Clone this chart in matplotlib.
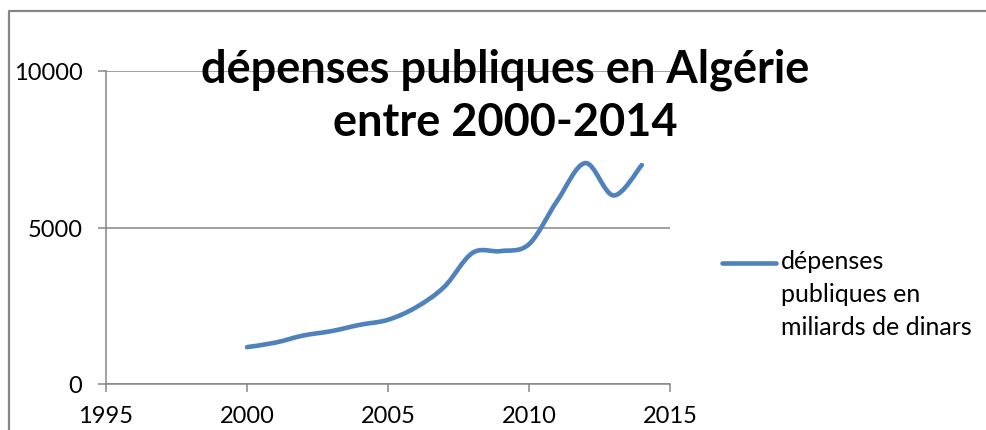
import numpy as np
import matplotlib
matplotlib.use('Agg')
import matplotlib.pyplot as plt
from matplotlib.path import Path
from matplotlib.patches import PathPatch
from matplotlib.lines import Line2D

# dépenses publiques (milliards de DA)
years = [2000, 2001, 2002, 2003, 2004, 2005, 2006, 2007,
         2008, 2009, 2010, 2011, 2012, 2013, 2014]
depenses = [1178, 1321, 1550, 1690, 1891, 2052, 2453, 3108,
            4191, 4246, 4466, 5853, 7058, 6024, 6995]
xticks = [1995, 2000, 2005, 2010, 2015]
yticks = [0, 5000, 10000]
title = 'dépenses publiques en Algérie\nentre 2000-2014'
label = 'dépenses\npubliques en\nmiliards de dinars'

plt.rcParams['font.family'] = ['Lato', 'DejaVu Sans']
blue = '#4F81BD'
grey = '#868686'


def smooth_path(x, y):
    # catmull-rom -> bezier, like excel "smoothed line"
    p = np.column_stack([x, y]).astype(float)
    pts = [p[0]]
    codes = [Path.MOVETO]
    n = len(p)
    for i in range(n - 1):
        p0 = p[i - 1] if i > 0 else p[i]
        p3 = p[i + 2] if i + 2 < n else p[i + 1]
        c1 = p[i] + (p[i + 1] - p0) / 6
        c2 = p[i + 1] - (p3 - p[i]) / 6
        pts += [c1, c2, p[i + 1]]
        codes += [Path.CURVE4] * 3
    return Path(pts, codes)


fig = plt.figure(figsize=(9.87, 4.31), dpi=100)
ax = fig.add_axes([106/987, 1 - 385/431, 564/987, 313/431])

ax.add_patch(PathPatch(smooth_path(years, depenses), fill=False, ec=blue,
                       lw=3.3, capstyle='round', joinstyle='round', zorder=3))
ax.set_xlim(1995, 2015)
ax.set_ylim(0, 10000)
ax.set_xticks(xticks)
ax.set_yticks(yticks)
ax.yaxis.grid(True, color=grey, lw=1.1)
ax.set_axisbelow(True)
for s in ['top', 'right']:
    ax.spines[s].set_visible(False)
for s in ['left', 'bottom']:
    ax.spines[s].set_color(grey)
    ax.spines[s].set_linewidth(1.1)
ax.tick_params(length=6, width=1.1, color=grey, labelsize=17)
ax.tick_params(axis='y', pad=11)
ax.tick_params(axis='x', pad=9)

fig.text(505/987, 1 - 96/431, title, ha='center', va='center', fontsize=32.5,
         fontweight='bold', linespacing=1.33, zorder=5)

# legend
fig.add_artist(Line2D([722/987, 776/987], [1 - 264/431, 1 - 264/431],
                      color=blue, lw=3.3, solid_capstyle='round'))
fig.text(781/987, 1 - 250/431, label, ha='left', va='top', fontsize=18,
         linespacing=1.52)

# chart border
fig.add_artist(Line2D([9/987, 9/987, 1], [0, 1 - 12/431, 1 - 12/431],
                      color=grey, lw=1.6))

fig.savefig('out.png', dpi=100)
